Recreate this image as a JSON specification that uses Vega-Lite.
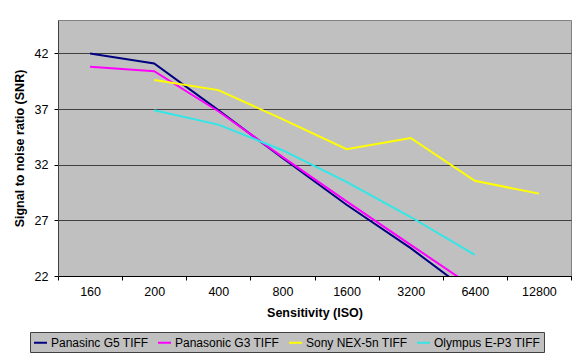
{
  "$schema": "https://vega.github.io/schema/vega-lite/v6.json",
  "width": 513,
  "height": 256,
  "autosize": {"type": "none"},
  "padding": {"left": 58, "top": 20, "right": 9, "bottom": 80},
  "background": "white",
  "config": {
    "view": {"fill": "#C0C0C0", "stroke": "#808080", "strokeWidth": 1},
    "font": "Liberation Sans"
  },
  "data": {
    "values": [
      {"camera": "Panasinc G5 TIFF", "iso": "160", "snr": 42.0},
      {"camera": "Panasinc G5 TIFF", "iso": "200", "snr": 41.1},
      {"camera": "Panasinc G5 TIFF", "iso": "400", "snr": 36.9},
      {"camera": "Panasinc G5 TIFF", "iso": "800", "snr": 32.6},
      {"camera": "Panasinc G5 TIFF", "iso": "1600", "snr": 28.4},
      {"camera": "Panasinc G5 TIFF", "iso": "3200", "snr": 24.5},
      {"camera": "Panasinc G5 TIFF", "iso": "6400", "snr": 20.2},
      {"camera": "Panasonic G3 TIFF", "iso": "160", "snr": 40.8},
      {"camera": "Panasonic G3 TIFF", "iso": "200", "snr": 40.4},
      {"camera": "Panasonic G3 TIFF", "iso": "400", "snr": 36.8},
      {"camera": "Panasonic G3 TIFF", "iso": "800", "snr": 32.7},
      {"camera": "Panasonic G3 TIFF", "iso": "1600", "snr": 28.7},
      {"camera": "Panasonic G3 TIFF", "iso": "3200", "snr": 24.8},
      {"camera": "Panasonic G3 TIFF", "iso": "6400", "snr": 20.9},
      {"camera": "Sony NEX-5n TIFF", "iso": "200", "snr": 39.6},
      {"camera": "Sony NEX-5n TIFF", "iso": "400", "snr": 38.7},
      {"camera": "Sony NEX-5n TIFF", "iso": "800", "snr": 36.1},
      {"camera": "Sony NEX-5n TIFF", "iso": "1600", "snr": 33.4},
      {"camera": "Sony NEX-5n TIFF", "iso": "3200", "snr": 34.4},
      {"camera": "Sony NEX-5n TIFF", "iso": "6400", "snr": 30.55},
      {"camera": "Sony NEX-5n TIFF", "iso": "12800", "snr": 29.4},
      {"camera": "Olympus E-P3 TIFF", "iso": "200", "snr": 36.9},
      {"camera": "Olympus E-P3 TIFF", "iso": "400", "snr": 35.6},
      {"camera": "Olympus E-P3 TIFF", "iso": "800", "snr": 33.3},
      {"camera": "Olympus E-P3 TIFF", "iso": "1600", "snr": 30.45},
      {"camera": "Olympus E-P3 TIFF", "iso": "3200", "snr": 27.3},
      {"camera": "Olympus E-P3 TIFF", "iso": "6400", "snr": 23.9}
    ]
  },
  "mark": {"type": "line", "strokeWidth": 2, "clip": true},
  "encoding": {
    "x": {
      "field": "iso",
      "type": "ordinal",
      "sort": ["160", "200", "400", "800", "1600", "3200", "6400", "12800"],
      "scale": {"type": "band", "paddingInner": 0, "paddingOuter": 0, "domain": ["160", "200", "400", "800", "1600", "3200", "6400", "12800"]},
      "axis": {
        "title": "Sensitivity (ISO)",
        "labelAngle": 0,
        "tickBand": "extent",
        "grid": false,
        "domainColor": "#000000",
        "tickColor": "#000000",
        "tickSize": 4,
        "labelFontSize": 12.5,
        "labelColor": "#000000",
        "labelPadding": 5,
        "titleFontSize": 12.5,
        "titleFontWeight": "bold",
        "titleColor": "#000000",
        "titlePadding": 9
      }
    },
    "y": {
      "field": "snr",
      "type": "quantitative",
      "scale": {"domain": [22, 45], "nice": false, "zero": false},
      "axis": {
        "values": [22, 27, 32, 37, 42],
        "title": "Signal to noise ratio (SNR)",
        "grid": true,
        "gridColor": "#404040",
        "gridWidth": 1,
        "gridOpacity": 1,
        "domainColor": "#404040",
        "tickColor": "#000000",
        "tickSize": 4,
        "labelFontSize": 12.5,
        "labelColor": "#000000",
        "labelPadding": 6,
        "titleFontSize": 12.5,
        "titleFontWeight": "bold",
        "titleColor": "#000000",
        "titlePadding": 8
      }
    },
    "color": {
      "field": "camera",
      "type": "nominal",
      "scale": {
        "domain": ["Panasinc G5 TIFF", "Panasonic G3 TIFF", "Sony NEX-5n TIFF", "Olympus E-P3 TIFF"],
        "range": ["#000080", "#FF00FF", "#FFFF00", "#33E6E6"]
      },
      "legend": {
        "title": null,
        "orient": "none",
        "legendX": -28,
        "legendY": 312,
        "direction": "horizontal",
        "symbolType": "stroke",
        "symbolSize": 169,
        "symbolStrokeWidth": 2,
        "labelFontSize": 12,
        "labelColor": "#000000",
        "labelOffset": 3,
        "columnPadding": 5,
        "fillColor": "#C0C0C0",
        "strokeColor": "#404040",
        "padding": 3
      }
    }
  }
}
